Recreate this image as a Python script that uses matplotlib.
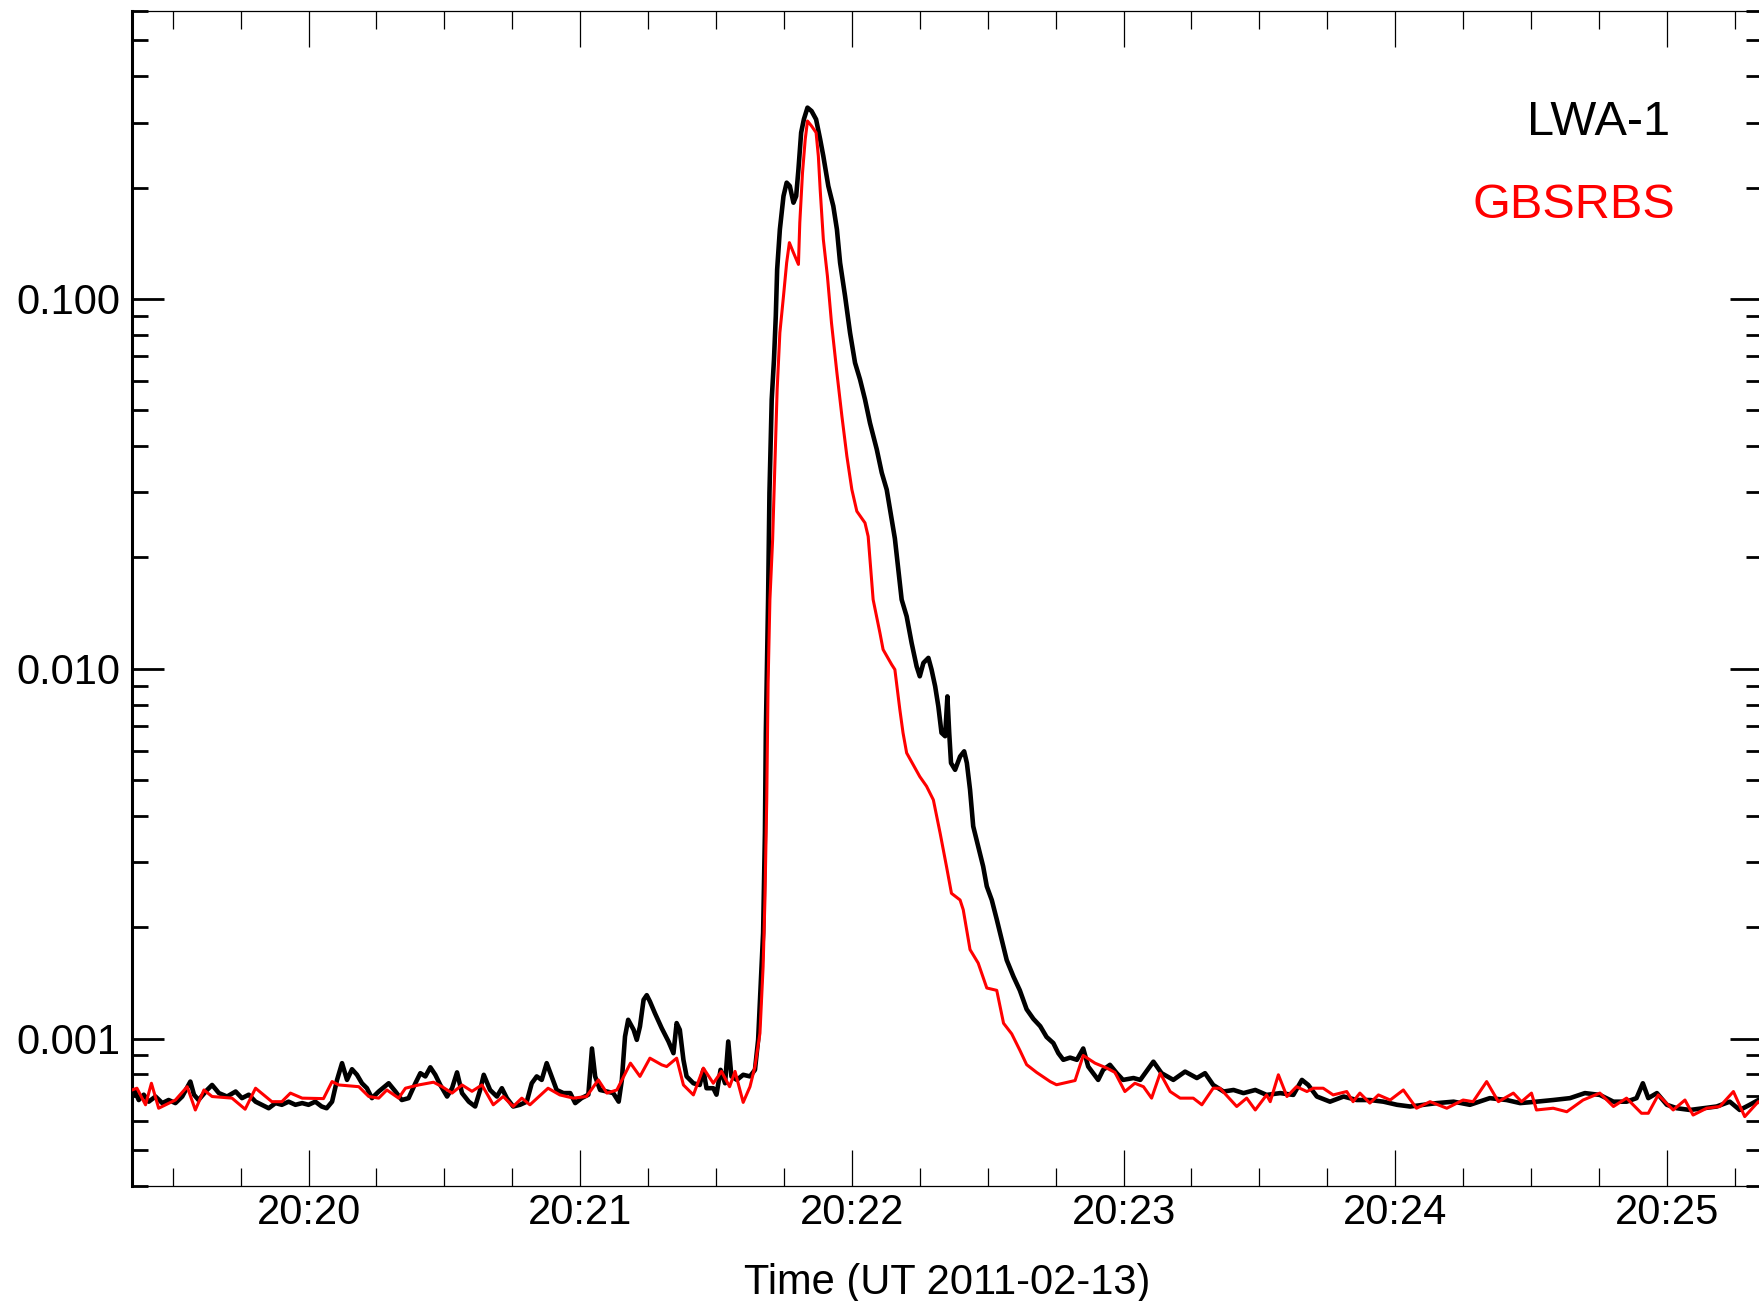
import matplotlib
matplotlib.use("Agg")
import matplotlib.pyplot as plt
from matplotlib.ticker import FixedLocator, MultipleLocator, LogLocator, NullFormatter

# time axis: seconds after 20:20:00 UT, 2011-02-13
lwa_t = [-39.0, -38.3, -37.5, -36.4, -35.3, -33.8, -32.3, -30.9, -29.4, -27.9, -26.1, -25.3, -24.3, -22.4,
         -21.3, -19.8, -18.0, -16.1, -14.7, -13.2, -11.7, -10.3, -8.8, -7.3, -5.9, -4.4, -2.9, -1.4, 0.0,
         1.5, 2.9, 4.0, 5.2, 6.3, 7.4, 8.5, 9.6, 10.7, 11.8, 12.9, 14.0, 15.5, 17.7, 19.2, 20.6, 22.1,
         23.6, 24.7, 25.8, 26.9, 28.0, 29.1, 30.6, 31.7, 32.8, 33.9, 35.4, 36.8, 37.9, 38.7,
         40.1, 41.6, 42.7, 43.8, 45.2, 46.7, 48.2, 49.3, 50.4, 51.5, 52.6, 53.7, 54.8, 56.3, 57.8, 58.9,
         60.3, 61.8, 62.6, 63.3, 64.4, 65.9, 67.3, 68.5, 69.2, 69.9, 70.6, 71.8, 72.5, 73.2, 74.0, 74.7,
         75.4, 76.5, 78.0, 79.5, 80.6, 81.3, 82.0, 82.8, 83.5, 85.0, 86.4, 87.2, 87.9, 89.4, 90.1, 91.0,
         92.0, 92.7, 93.4, 94.6, 96.0, 97.5, 98.6, 99.3,
         99.7, 100.4, 100.8, 101.0, 101.5, 101.8, 102.3, 102.8, 103.2, 103.5, 104.1, 104.9, 105.6, 106.3,
         107.1, 107.7, 108.2, 108.8, 109.4, 110.2, 111.1, 112.1, 113.0, 113.7, 114.8, 115.9, 116.7, 117.4,
         118.5, 119.6, 120.7, 121.8, 122.9, 124.0, 125.5, 126.6, 127.7, 129.5,
         131.0, 132.1, 133.2, 134.3, 135.0, 135.8, 136.9, 137.6, 138.4, 139.1, 139.8, 140.6, 141.1, 141.5,
         141.9, 142.8, 143.9, 144.8, 145.4, 146.1, 146.8, 147.9, 149.0, 149.8, 150.9, 152.0, 153.1, 154.2,
         155.7, 157.1, 158.6, 160.1, 161.6, 163.0, 164.5, 165.6, 166.7, 168.2, 169.7, 171.1, 172.2, 173.3,
         174.4, 175.5, 177.0, 178.5, 179.9, 182.2, 183.7,
         186.6, 188.4, 191.0, 193.6, 196.2, 198.0, 199.8, 202.1, 204.3, 206.5, 209.1, 211.6, 214.6, 217.5,
         219.4, 220.8, 222.7, 225.6, 228.6, 231.5, 234.4, 237.4, 240.4, 243.3, 246.2,
         249.2, 252.9, 256.5, 260.9, 264.6, 267.6, 271.2, 274.9, 278.6, 281.9, 285.2, 288.2, 291.1, 293.3,
         294.7, 295.9, 297.8, 300.0, 302.2, 305.1, 308.0, 311.0, 313.9, 316.1, 318.3, 320.2, 321.0]
lwa_flux = [0.000697, 0.000719, 0.000682, 0.000705, 0.000675, 0.000697, 0.000669, 0.000682, 0.000669, 0.000697,
            0.000765, 0.000705, 0.000682, 0.000726, 0.000749, 0.000712, 0.000697, 0.000719, 0.000690, 0.000705,
            0.000675, 0.000662, 0.000648, 0.000669, 0.000662, 0.000675, 0.000662, 0.000669, 0.000662, 0.000675,
            0.000655, 0.000648, 0.000675, 0.000773, 0.000858, 0.000773, 0.000826, 0.000798, 0.000757, 0.000734,
            0.000690, 0.000719, 0.000757, 0.000719, 0.000682, 0.000690, 0.000757, 0.000806, 0.000790, 0.000836,
            0.000798, 0.000749, 0.000697, 0.000734, 0.000810, 0.000712, 0.000675, 0.000655, 0.000726, 0.000798,
            0.000726, 0.000697, 0.000734, 0.000690, 0.000655, 0.000662, 0.000675, 0.000757, 0.000790, 0.000773,
            0.000858, 0.000790, 0.000726, 0.000712, 0.000712, 0.000669, 0.000690, 0.000705, 0.000940, 0.000790,
            0.000726, 0.000719, 0.000712, 0.000675, 0.000773, 0.001013, 0.001124, 0.001056, 0.000992, 0.001078,
            0.001273, 0.001310, 0.001260, 0.001171, 0.001067, 0.000982, 0.000913, 0.001101, 0.001056, 0.000876,
            0.000790, 0.000757, 0.000749, 0.000823, 0.000734, 0.000734, 0.000705, 0.000823, 0.000757, 0.000982,
            0.000790, 0.000773, 0.000798, 0.000790, 0.000823, 0.000992,
            0.00127, 0.00193, 0.0036, 0.0067, 0.0154, 0.0299, 0.0535, 0.0686, 0.0899, 0.1202,
            0.1542, 0.1897, 0.2063, 0.2020, 0.1821, 0.1897, 0.2240, 0.2817, 0.3060, 0.3291,
            0.3222, 0.3060, 0.2702, 0.2433, 0.2020, 0.1783, 0.1542, 0.1253, 0.1018, 0.0810,
            0.0672, 0.0606, 0.0535, 0.0462, 0.0392, 0.0339, 0.0305, 0.0225,
            0.01538, 0.01386, 0.01174, 0.01015, 0.00954, 0.01037, 0.01070, 0.00995, 0.00896, 0.00791,
            0.00671, 0.00657, 0.00842, 0.00671, 0.00556, 0.00533, 0.00579, 0.00598, 0.00556, 0.00471,
            0.00375, 0.00331, 0.00292, 0.00258, 0.00237, 0.00210, 0.00185, 0.00163, 0.00147, 0.00135,
            0.00120, 0.00113, 0.00108, 0.00101, 0.000972, 0.000913, 0.000876, 0.000888, 0.000876, 0.000940,
            0.000840, 0.000806, 0.000773, 0.000823, 0.000849, 0.000806, 0.000773, 0.000782, 0.000773,
            0.000866, 0.000806, 0.000773, 0.000814, 0.000782, 0.000806, 0.000749, 0.000719, 0.000726, 0.000712,
            0.000726, 0.000704, 0.000712, 0.000704, 0.000773, 0.000749, 0.000697, 0.000675, 0.000697, 0.000682,
            0.000682, 0.000675, 0.000662, 0.000655, 0.000662,
            0.000669, 0.000675, 0.000662, 0.000690, 0.000682, 0.000669, 0.000675, 0.000682, 0.000690, 0.000712,
            0.000704, 0.000675, 0.000675, 0.000690, 0.000757, 0.000690, 0.000712, 0.000662, 0.000648, 0.000641,
            0.000648, 0.000655, 0.000675, 0.000641, 0.000662, 0.000682, 0.000670]

gb_t = [-39.0, -37.9, -36.0, -34.7, -33.1, -29.4, -26.8, -25.0, -23.1, -21.3, -16.9, -14.0, -11.7, -8.1,
        -5.9, -4.0, -1.4, 3.3, 5.2, 6.7, 11.1, 13.3, 15.5, 17.3, 19.9, 21.4, 24.3, 27.6, 29.5, 31.7, 33.9,
        36.1, 38.3, 40.8, 43.0, 45.2, 47.1, 48.9, 52.9, 55.5, 58.5, 61.4, 64.0, 65.9, 68.1, 71.1, 73.2,
        75.4, 78.0, 79.1, 81.3, 82.8, 85.0, 87.2, 89.4, 91.2, 93.0, 94.2, 96.0, 97.5, 98.6,
        99.7, 100.4, 100.8, 101.2, 101.5, 101.9, 102.5, 103.0, 103.5, 104.1, 104.9, 105.6, 106.2, 107.1,
        108.2, 108.5, 109.1, 109.7, 110.2, 111.1, 112.1, 112.6, 113.0, 113.7, 114.6, 115.5, 116.7, 117.8,
        118.9, 120.0, 121.1, 122.9, 123.6, 124.7, 126.2, 126.9, 128.8, 129.5, 130.6, 131.3, 132.1, 135.0,
        136.5, 138.0, 139.5, 140.9, 142.0, 143.9, 144.6, 146.1, 147.9, 149.8, 152.0, 153.5, 155.3, 157.1,
        158.6, 160.8, 163.8, 165.2, 169.3, 171.1, 173.7, 176.3, 178.1, 180.3, 182.5, 184.4, 186.2, 188.1,
        190.3, 192.5, 195.4, 197.3, 199.8, 201.3, 205.0, 207.2, 209.1, 211.6, 212.4, 214.2, 216.1, 218.2,
        220.5, 221.9, 224.1, 226.3, 229.3, 230.7, 232.2, 234.4, 236.3, 238.9, 241.8, 244.7, 247.7, 251.4,
        255.0, 257.2, 260.2, 262.8, 266.1, 267.9, 270.1, 271.2, 274.9, 277.9, 281.5, 285.2, 288.2, 291.1,
        294.4, 295.9, 298.1, 301.4, 304.0, 305.8, 308.8, 311.7, 314.7, 317.2, 320.2, 321.0]
gb_flux = [0.000726, 0.000734, 0.000662, 0.000757, 0.000648, 0.000682, 0.000741, 0.000641, 0.000726, 0.000697,
           0.000690, 0.000644, 0.000734, 0.000675, 0.000675, 0.000712, 0.000690, 0.000688, 0.000765, 0.000749,
           0.000741, 0.000697, 0.000690, 0.000726, 0.000690, 0.000734, 0.000749, 0.000762, 0.000741, 0.000712,
           0.000749, 0.000720, 0.000749, 0.000662, 0.000697, 0.000655, 0.000690, 0.000662, 0.000734, 0.000704,
           0.000690, 0.000697, 0.000773, 0.000712, 0.000726, 0.000858, 0.000790, 0.000885, 0.000849, 0.000840,
           0.000885, 0.000749, 0.000704, 0.000832, 0.000757, 0.000815, 0.000741, 0.000815, 0.000672, 0.000741,
           0.000840,
           0.001034, 0.001566, 0.002373, 0.004423, 0.009153, 0.01538, 0.02235, 0.03528, 0.05689, 0.08101,
           0.1018, 0.1253, 0.1420, 0.1334, 0.1240, 0.1608, 0.2195, 0.2702, 0.3029, 0.2935,
           0.2817, 0.2433, 0.1979, 0.1449, 0.1153, 0.0862, 0.0631, 0.0482, 0.03755, 0.03052,
           0.02666, 0.0248, 0.0228, 0.01538, 0.0125, 0.01127, 0.01026, 0.00995, 0.00775, 0.00671,
           0.00592, 0.00511, 0.00481, 0.00442, 0.00359, 0.00292, 0.00247, 0.00237, 0.00223, 0.00174,
           0.00160, 0.00137, 0.00135, 0.00110, 0.00103, 0.00093, 0.00085, 0.00081, 0.000765, 0.00075,
           0.00077, 0.00090, 0.000858, 0.000832, 0.00081, 0.000719, 0.000757, 0.000741, 0.000690, 0.000806,
           0.000719, 0.000690, 0.000690, 0.000662, 0.000734, 0.000734, 0.000655, 0.000690, 0.000641, 0.000704,
           0.000675, 0.000798, 0.000697, 0.000741, 0.000719, 0.000734, 0.000734, 0.000704, 0.000719, 0.000675,
           0.000712, 0.000669, 0.000704, 0.000682, 0.000726, 0.000648, 0.000675, 0.000648, 0.000682, 0.000675,
           0.000765, 0.000675, 0.000712, 0.000675, 0.000712, 0.000641, 0.000648, 0.000634, 0.000682, 0.000712,
           0.000655, 0.000690, 0.000628, 0.000628, 0.000704, 0.000641, 0.000682, 0.000621, 0.000648, 0.000655,
           0.000719, 0.000615, 0.000675, 0.000660]

x_tick_pos = [0, 60, 120, 180, 240, 300]
x_tick_labels = ["20:20", "20:21", "20:22", "20:23", "20:24", "20:25"]
y_tick_pos = [0.001, 0.01, 0.1]
y_tick_labels = ["0.001", "0.010", "0.100"]
series_names = ["LWA-1", "GBSRBS"]

plt.rcParams['font.family'] = ['Liberation Sans', 'DejaVu Sans']

fig = plt.figure(figsize=(17.59, 13.01), dpi=100)
ax = fig.add_axes([0.07527, 0.08862, 0.9264, 0.90277])

ax.plot(lwa_t, lwa_flux, color='black', lw=3.3, zorder=2)
ax.plot(gb_t, gb_flux, color='#ff0000', lw=2.2, zorder=3)

ax.set_yscale('log')
ax.set_xlim(-38.9, 321.0)
ax.set_ylim(4e-4, 0.6)

ax.xaxis.set_major_locator(FixedLocator(x_tick_pos))
ax.set_xticklabels(x_tick_labels)
ax.xaxis.set_minor_locator(MultipleLocator(15))
ax.yaxis.set_major_locator(FixedLocator(y_tick_pos))
ax.set_yticklabels(y_tick_labels)
ax.yaxis.set_minor_locator(LogLocator(base=10, subs=range(2, 10)))
ax.yaxis.set_minor_formatter(NullFormatter())

ax.tick_params(axis='x', which='major', direction='in', length=26, width=0.9,
               top=True, bottom=True, labelsize=30, pad=5)
ax.tick_params(axis='x', which='minor', direction='in', length=13, width=0.9,
               top=True, bottom=True)
ax.tick_params(axis='y', which='major', direction='in', length=23, width=2.0,
               left=True, right=True, labelsize=30, pad=9)
ax.tick_params(axis='y', which='minor', direction='in', length=11.5, width=2.0,
               left=True, right=True)

ax.spines['left'].set_linewidth(2.2)
ax.spines['right'].set_linewidth(2.2)
ax.spines['top'].set_linewidth(0.9)
ax.spines['bottom'].set_linewidth(0.9)

ax.set_xlabel("Time (UT 2011-02-13)", fontsize=30, labelpad=22)

ax.text(0.9436, 0.8946, series_names[0], transform=ax.transAxes, ha='right', va='baseline',
        fontsize=35, color='black')
ax.text(0.9466, 0.8239, series_names[1], transform=ax.transAxes, ha='right', va='baseline',
        fontsize=35, color='#ff0000')

fig.savefig("out.png", dpi=100)
